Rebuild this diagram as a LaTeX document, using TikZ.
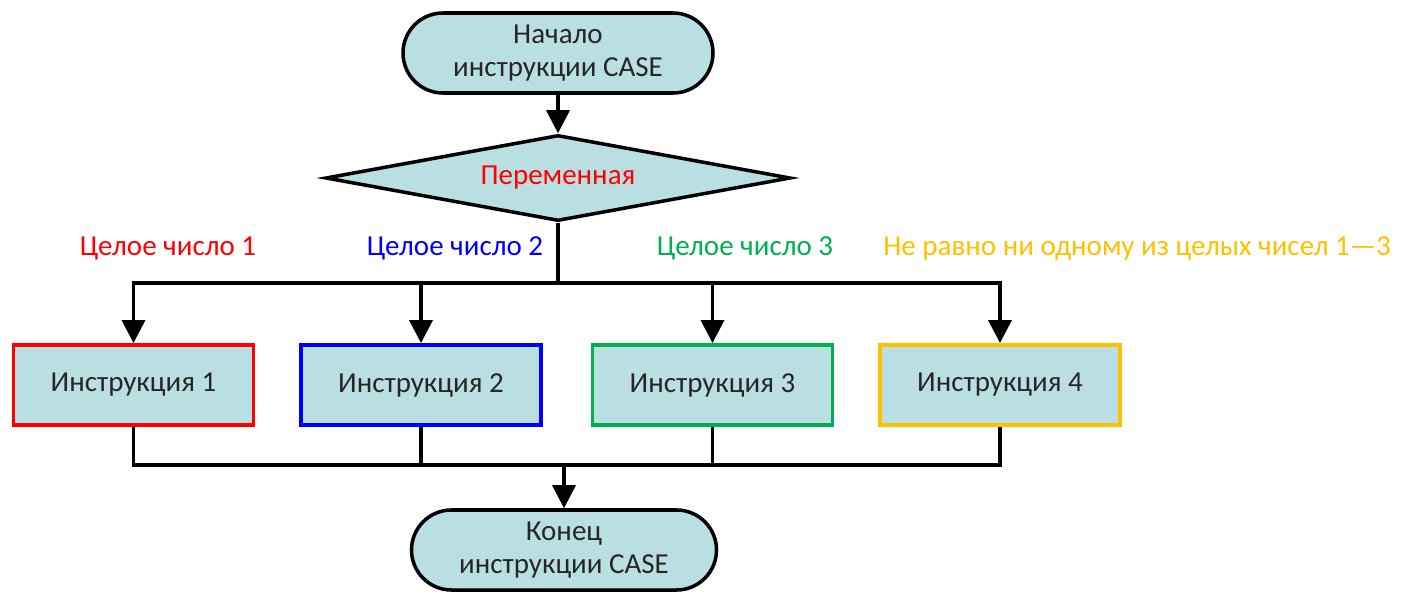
\documentclass[tikz,border=0pt]{standalone}
\usepackage{fontspec}
\setmainfont{Carlito}
\usepackage{xcolor}
\usetikzlibrary{
    shapes.geometric,
    arrows.meta,
    positioning,
    calc
}
\definecolor{boxfill}{HTML}{B9DFE2}
\definecolor{caseRed}{HTML}{FF0000}
\definecolor{caseBlue}{HTML}{0000FF}
\definecolor{caseGreen}{HTML}{00B050}
\definecolor{caseOrange}{HTML}{FFC000}
\newcommand{\casefont}{\fontsize{16.5}{19}\selectfont}

\begin{document}
\begin{tikzpicture}[
        terminal/.style={draw, line width=2pt, fill=boxfill, rounded corners=0.8cm, minimum width=#1, minimum height=1.6cm, align=center, text=black!85, font=\casefont},
        choice/.style={draw, diamond, aspect=5.4, line width=2pt, fill=boxfill, minimum width=9.3cm, minimum height=1.72cm, inner sep=0pt, font=\casefont},
        instr/.style={draw=#1, line width=2.2pt, fill=boxfill, minimum width=4.8cm, minimum height=1.6cm, text=black!85, font=\casefont},
        label/.style={text=#1, font=\casefont},
        line/.style={line width=2pt},
        arrow/.style={line, -{Triangle[length=0.46cm, width=0.46cm]}}
    ]
        \useasboundingbox (0,0) rectangle (28.32,-11.98);

        % Start
        \node[terminal=6.2cm] (start) at (11.16, -1.06) {
            Начало\\
            инструкции CASE
        };

        % Variable
        \node[choice] (var) at (11.16, -3.56) {\textcolor{caseRed}{Переменная}};

        % Branches
        \node[instr=caseRed] (ins1) at (2.67, -7.70) {Инструкция 1};
        \node[instr=caseBlue] (ins2) at (8.42, -7.70) {Инструкция 2};
        \node[instr=caseGreen] (ins3) at (14.25, -7.70) {Инструкция 3};
        \node[instr=caseOrange] (ins4) at (20.00, -7.70) {Инструкция 4};

        % Conditions
        \node[label=caseRed] (cond1) at (3.36, -4.96) {Целое число 1};
        \node[label=caseBlue] (cond2) at (9.10, -4.96) {Целое число 2};
        \node[label=caseGreen] (cond3) at (14.90, -4.96) {Целое число 3};
        \node[label=caseOrange] (cond4) at (22.74, -4.96) {Не равно ни одному из целых чисел 1—3};

        % End
        \node[terminal=6.1cm] (stop) at (11.28, -11.00) {
            Конец\\
            инструкции CASE
        };

        % Arrows
        \coordinate (split) at (11.16, -5.66);
        \coordinate (merge) at (11.28, -9.30);
        \draw[arrow] (start) -- (var);
        \draw[line] (var.south) -- (split);
        \draw[arrow] (split) -| (ins1.north);
        \draw[arrow] (split) -| (ins2.north);
        \draw[arrow] (split) -| (ins3.north);
        \draw[arrow] (split) -| (ins4.north);
        \draw[line] (ins1.south) |- (merge);
        \draw[line] (ins2.south) |- (merge);
        \draw[line] (ins3.south) |- (merge);
        \draw[line] (ins4.south) |- (merge);
        \draw[arrow] (merge) -- (stop);
    \end{tikzpicture}
\end{document}
